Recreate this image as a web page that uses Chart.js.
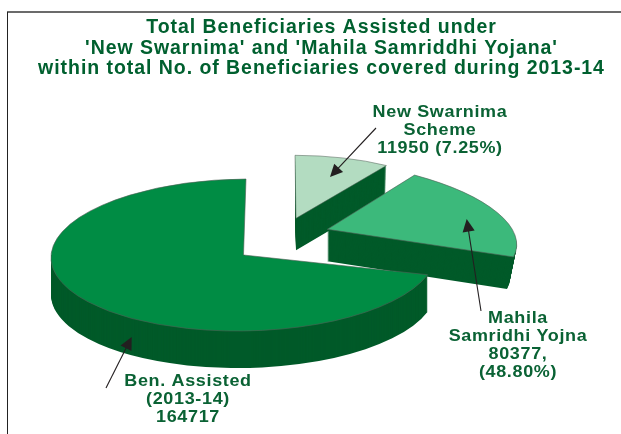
<!DOCTYPE html>
<html><head><meta charset="utf-8">
<style>html,body{margin:0;padding:0;background:#fff}canvas{display:block}</style>
<script src="https://cdn.jsdelivr.net/npm/chart.js@4"></script>
</head><body><canvas id="c" width="621" height="434"></canvas>
<script>
// Data
const titleLines = ["Total Beneficiaries Assisted under", "'New Swarnima' and 'Mahila Samriddhi Yojana'", "within total No. of Beneficiaries covered during 2013-14"];
const categories = ["New Swarnima Scheme", "Mahila Samridhi Yojna", "Ben. Assisted (2013-14)"];
const beneficiaries = [11950, 80377, 164717];
const percentLabels = ["7.25%", "48.80%", null];
// Share of the full turn each slice occupies as drawn in the picture (%)
const drawnShares = [9.2, 20.3, 70.5];
const topColors = ["#b3dcc1", "#3cb97b", "#008c44"];
const sideColor = "#005a29";
const textColor = "#0a6234";

// Layout of the exploded, tilted pie (per slice, same order as the data)
const placement = [
  {E:[296,218.3], U:[-1,-63],     V:[167,0],    depth:32, taper:.01, sideFromY:0},
  {E:[327.3,229.3], U:[-18.8,-70.2], V:[188.5,8.4], depth:32, taper:.035, sideFromY:0},
  {E:[243.5,255], U:[2.5,-76],    V:[192.5,-1.5], depth:37, taper:0, sideFromY:255}
];
const drawOrder = [0,1,2];
const labelLayout = [
  {x:440, ys:[112,130,148], lines:()=>["New Swarnima","Scheme",`${beneficiaries[0]} (${percentLabels[0]})`], arrow:[[376,128],[330,177]]},
  {x:518, ys:[318,336,354,372], lines:()=>["Mahila","Samridhi Yojna",`${beneficiaries[1]},`,`(${percentLabels[1]})`], arrow:[[481,311],[466.7,219]]},
  {x:188, ys:[381,399,417], lines:()=>["Ben. Assisted","(2013-14)",`${beneficiaries[2]}`], arrow:[[106,388],[131.7,337]]}
];
const labelStretch = 1.09;

function applySlice(ctx, arc, p){
  const R = arc.outerRadius;
  const a=p.V[0]/R, b=p.V[1]/R, c=-p.U[0]/R, d=-p.U[1]/R;
  ctx.transform(a,b,c,d, p.E[0]-a*arc.x-c*arc.y, p.E[1]-b*arc.x-d*arc.y);
}
const pie3d = {
  id:'pie3d',
  beforeDraw(chart){
    const ctx=chart.ctx;
    ctx.save();
    ctx.strokeStyle='#6b6b6b'; ctx.lineWidth=2;
    ctx.beginPath(); ctx.moveTo(7,12); ctx.lineTo(621,12); ctx.stroke();
    ctx.strokeStyle='#222'; ctx.lineWidth=1;
    ctx.beginPath(); ctx.moveTo(7.5,12); ctx.lineTo(7.5,434); ctx.stroke();
    ctx.restore();
    ctx.letterSpacing='0.95px';
  },
  beforeDatasetsDraw(chart){
    const ctx=chart.ctx, arcs=chart.getDatasetMeta(0).data;
    drawOrder.forEach(i=>{
      const arc=arcs[i], p=placement[i], base=arc.options;
      arc.options=Object.assign({},base,{backgroundColor:sideColor,borderWidth:0});
      ctx.save();
      ctx.beginPath(); ctx.rect(0,p.sideFromY,chart.width,chart.height-p.sideFromY); ctx.clip();
      for(let k=p.depth;k>=1;k--){
        const t=k/p.depth, s=1-p.taper*t;
        ctx.save();
        ctx.translate(p.E[0],p.E[1]+k); ctx.scale(s,1); ctx.translate(-p.E[0],-p.E[1]);
        applySlice(ctx,arc,p);
        arc.draw(ctx);
        ctx.restore();
      }
      ctx.restore();
      arc.options=base;
      ctx.save(); applySlice(ctx,arc,p); arc.draw(ctx); ctx.restore();
    });
    return false;
  },
  afterDraw(chart){
    const ctx=chart.ctx;
    ctx.save();
    ctx.letterSpacing='0.6px';
    ctx.font='bold 16.5px "Liberation Sans", Arial, sans-serif';
    ctx.textAlign='center'; ctx.textBaseline='middle';
    labelLayout.forEach(l=>{
      ctx.fillStyle=textColor;
      l.lines().forEach((s,i)=>{
        ctx.save();
        ctx.translate(l.x,l.ys[i]); ctx.scale(labelStretch,1);
        ctx.fillText(s,0,0);
        ctx.restore();
      });
      const [t,h]=l.arrow, ang=Math.atan2(h[1]-t[1],h[0]-t[0]);
      ctx.strokeStyle='#231f20'; ctx.fillStyle='#231f20'; ctx.lineWidth=1.1;
      ctx.beginPath(); ctx.moveTo(t[0],t[1]); ctx.lineTo(h[0]-9*Math.cos(ang),h[1]-9*Math.sin(ang)); ctx.stroke();
      ctx.beginPath(); ctx.moveTo(h[0],h[1]);
      ctx.lineTo(h[0]-14*Math.cos(ang-.45),h[1]-14*Math.sin(ang-.45));
      ctx.lineTo(h[0]-14*Math.cos(ang+.45),h[1]-14*Math.sin(ang+.45));
      ctx.closePath(); ctx.fill();
    });
    ctx.restore();
  }
};
new Chart(document.getElementById('c'),{
  type:'pie',
  data:{labels:categories,datasets:[{data:drawnShares,backgroundColor:topColors,borderColor:'#4f5f55',borderWidth:.8}]},
  options:{
    responsive:false,animation:false,rotation:0,
    layout:{padding:{left:22}},
    plugins:{
      legend:{display:false},tooltip:{enabled:false},
      title:{display:true,text:titleLines,color:'#00602f',align:'center',
        font:{family:'"Liberation Sans", Arial, sans-serif',size:19.5,weight:'bold',lineHeight:1.03},padding:{top:18,bottom:0}}
    }
  },
  plugins:[pie3d]
});
</script></body></html>
